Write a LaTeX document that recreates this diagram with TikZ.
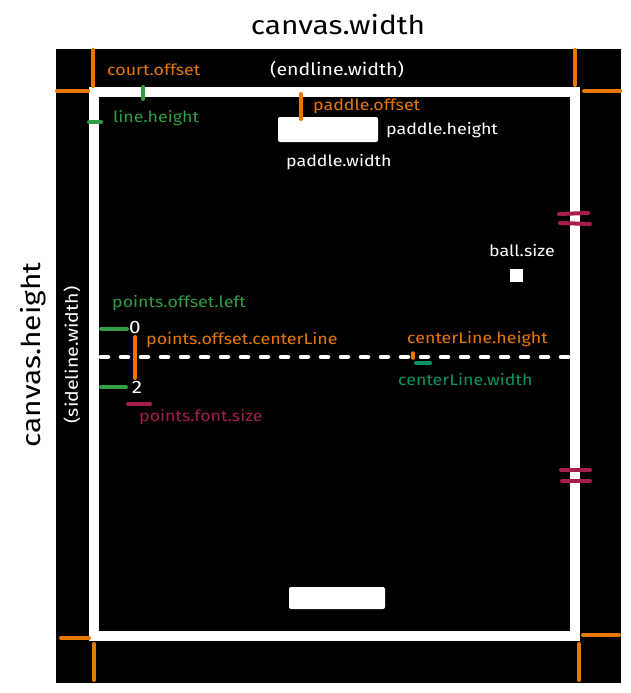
\documentclass[tikz,border=0pt]{standalone}
\usepackage{fontspec}
\setmainfont[FakeStretch=1.15]{Fira Sans}
\definecolor{orangeC}{RGB}{232,119,0}
\definecolor{greenC}{RGB}{47,158,68}
\definecolor{tealC}{RGB}{9,146,104}
\definecolor{magC}{RGB}{166,30,77}
\tikzset{
  court/.style={draw=white, line width=10pt},
  omark/.style={draw=orangeC, line width=4pt, line cap=round},
  gmark/.style={draw=greenC, line width=4pt, line cap=round},
  tmark/.style={draw=tealC, line width=4pt, line cap=round},
  mmark/.style={draw=magC, line width=4pt, line cap=round},
  lbl/.style={inner sep=0pt, anchor=west, font=\fontsize{15.5}{17}\selectfont},
  big/.style={inner sep=0pt, font=\fontsize{26}{30}\selectfont, text=black},
}
\begin{document}
\begin{tikzpicture}[x=1pt,y=-1pt]
\useasboundingbox (0,0) rectangle (631,693);
\fill[white] (0,0) rectangle (631,693);
\fill[black] (56,49) rectangle (621,683);
% court
\draw[court] (94,92) rectangle (575,636);
% paddles and ball
\fill[white, rounded corners=2pt] (278,117) rectangle (378,142);
\fill[white, rounded corners=2pt] (289,587) rectangle (385,609);
\fill[white] (510,269) rectangle (523,282);
% orange corner marks
\draw[omark] (93,50) -- (93,86);
\draw[omark] (57,91) -- (88,91);
\draw[omark] (575,50) -- (575,85);
\draw[omark] (584,91) -- (620,91);
\draw[omark] (61,638) -- (89,638);
\draw[omark] (94,644) -- (94,680);
\draw[omark] (583,635) -- (619,635);
\draw[omark] (579,644) -- (579,680);
\draw[omark] (301,94) -- (301,119);
\draw[omark] (135,337) -- (135,378);
% center line
\draw[white, line width=4.5pt, line cap=round, dash pattern=on 7pt off 13pt] (101,357) -- (568,357);
\draw[omark, line width=3.5pt] (413,353) -- (413,358);
% green marks
\draw[gmark] (143,87) -- (143,99);
\draw[gmark] (89,122) -- (101,122);
\draw[gmark] (101,329) -- (127,329);
\draw[gmark] (101,387) -- (126,387);
\draw[tmark] (416,363) -- (430,363);
% magenta marks
\draw[mmark] (559,214) -- (588,213);
\draw[mmark] (560,223) -- (590,224);
\draw[mmark] (561,470) -- (590,470);
\draw[mmark] (562,481) -- (590,481);
\draw[mmark] (128,404) -- (150,404);
% big labels
\node[big] (cw) at (338,25) {canvas.width};
\node[big, rotate=90] (ch) at (33,355) {canvas.height};
\node[lbl, anchor=center, text=white, rotate=90, font=\fontsize{17}{19}\selectfont] (sw) at (72,355) {(sideline.width)};
\node[lbl, anchor=center, text=white, font=\fontsize{17}{19}\selectfont] (ew) at (337,70) {(endline.width)};
% labels
\node[lbl, text=orangeC] (co) at (107,70) {court.offset};
\node[lbl, text=greenC] (lh) at (113,118) {line.height};
\node[lbl, text=orangeC] (po) at (313,106) {paddle.offset};
\node[lbl, text=white] (ph) at (386,130) {paddle.height};
\node[lbl, text=white] (pw) at (286,162) {paddle.width};
\node[lbl, text=white] (bs) at (489,251) {ball.size};
\node[lbl, text=greenC] (pol) at (112,303) {points.offset.left};
\node[lbl, anchor=center, text=white, font=\fontsize{18}{20}\selectfont] (p0) at (135,327) {0};
\node[lbl, text=orangeC] (poc) at (146,340) {points.offset.centerLine};
\node[lbl, anchor=center, text=white, font=\fontsize{18}{20}\selectfont] (p2) at (137,387) {2};
\node[lbl, text=magC] (pfs) at (139,417) {points.font.size};
\node[lbl, text=orangeC] (clh) at (407,339) {centerLine.height};
\node[lbl, text=tealC] (clw) at (398,380) {centerLine.width};
\end{tikzpicture}
\end{document}
